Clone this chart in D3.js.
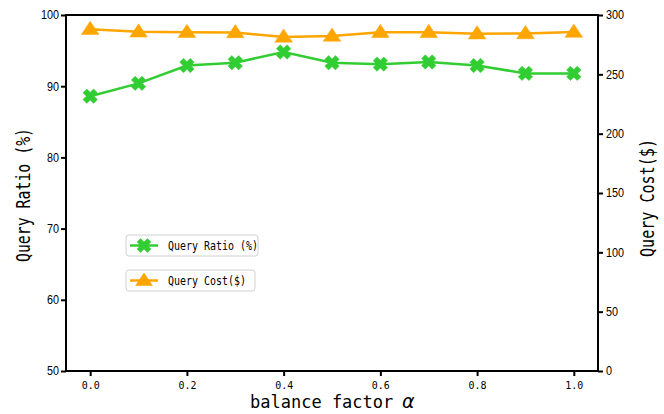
<!DOCTYPE html>
<html><head><meta charset="utf-8">
<script src="https://cdn.jsdelivr.net/npm/d3@7"></script>
<style>body{margin:0;background:#fff}</style>
</head><body>
<svg id="c" width="664" height="414"></svg>
<script>
const alphas = [0.0,0.1,0.2,0.3,0.4,0.5,0.6,0.7,0.8,0.9,1.0];
const queryRatio = [88.6,90.4,92.9,93.3,94.8,93.3,93.1,93.4,92.9,91.8,91.8];
const queryCost = [288.0,285.8,285.4,285.2,281.5,282.3,285.4,285.4,284.2,284.4,285.6];
const xTicks = [0.0,0.2,0.4,0.6,0.8,1.0];
const leftTicks = [50,60,70,80,90,100];
const rightTicks = [0,50,100,150,200,250,300];

const svg = d3.select("#c");
const m = {l:66, r:598, t:15, b:371};
const x = d3.scaleLinear().domain([-0.05,1.05]).range([m.l,m.r]);
const yL = d3.scaleLinear().domain([50,100]).range([m.b,m.t]);
const yR = d3.scaleLinear().domain([0,300]).range([m.b,m.t]);
const mono = "'DejaVu Sans Mono', monospace";
const sans = "'Liberation Sans', Arial, sans-serif";
const green = "#32cd32", orange = "#ffa500";

// axes
const axL = svg.append("g").attr("transform",`translate(${m.l},0)`)
  .call(d3.axisLeft(yL).tickValues(leftTicks).tickSize(5).tickPadding(2));
const axR = svg.append("g").attr("transform",`translate(${m.r},0)`)
  .call(d3.axisRight(yR).tickValues(rightTicks).tickSize(5).tickPadding(3));
const axB = svg.append("g").attr("transform",`translate(0,${m.b})`)
  .call(d3.axisBottom(x).tickValues(xTicks).tickFormat(d3.format(".1f")).tickSize(5).tickPadding(5));
[axL,axR,axB].forEach(a=>{
  a.select(".domain").remove();
  a.selectAll(".tick line").attr("stroke","#000").attr("stroke-width",2);
  a.selectAll("text").attr("fill","#000");
});
axL.selectAll("text").attr("font-family",sans).attr("font-size",12)
  .attr("transform","scale(0.9,1)").attr("x",-7/0.9);
axR.selectAll("text").attr("font-family",sans).attr("font-size",12)
  .attr("transform","scale(0.9,1)").attr("x",8/0.9);
axB.selectAll("text").attr("font-family",mono).attr("font-size",11)
  .attr("textLength",18).attr("lengthAdjust","spacingAndGlyphs");

// frame
svg.append("rect").attr("x",m.l).attr("y",m.t).attr("width",m.r-m.l).attr("height",m.b-m.t)
  .attr("fill","none").attr("stroke","#000").attr("stroke-width",2);

// axis titles
function txt(str, x0, y0, len, size, rot){
  const t = svg.append("text").attr("font-family",mono).attr("font-size",size)
    .attr("text-anchor","middle").attr("fill","#000")
    .attr("textLength",len).attr("lengthAdjust","spacingAndGlyphs").text(str);
  if(rot) t.attr("transform",`translate(${x0},${y0}) rotate(${rot})`);
  else t.attr("x",x0).attr("y",y0);
  return t;
}
svg.append("text").attr("x",250).attr("y",408).attr("font-family",mono).attr("font-size",17)
  .attr("fill","#000").text("balance factor");
svg.append("text").attr("x",402).attr("y",408).attr("font-family","'DejaVu Sans', sans-serif")
  .attr("font-style","italic").attr("font-size",19).attr("fill","#000").text("α");
txt("Query Ratio (%)", 30, 195, 134, 19, -90);
txt("Query Cost($)", 654, 198, 118, 19, -90);

// lines
const lineL = d3.line().x((d,i)=>x(alphas[i])).y(d=>yL(d));
const lineR = d3.line().x((d,i)=>x(alphas[i])).y(d=>yR(d));
svg.append("path").attr("d",lineR(queryCost)).attr("fill","none").attr("stroke",orange).attr("stroke-width",2.5);
svg.append("path").attr("d",lineL(queryRatio)).attr("fill","none").attr("stroke",green).attr("stroke-width",2.5);

function xPath(s){
  const a = s*0.36;
  const base = [[-a,-s],[a,-s],[a,-a],[s,-a],[s,a],[a,a],[a,s],[-a,s],[-a,a],[-s,a],[-s,-a],[-a,-a]];
  const r = base.map(([px,py])=>[(px-py)/Math.SQRT2,(px+py)/Math.SQRT2]);
  return "M"+r.map(p=>p.join(",")).join("L")+"Z";
}
function triPath(s){
  return `M0,${-s}L${s*1.1},${s*0.65}L${-s*1.1},${s*0.65}Z`;
}
svg.append("g").selectAll("path").data(queryCost).join("path")
  .attr("transform",(d,i)=>`translate(${x(alphas[i])},${yR(d)})`)
  .attr("d",triPath(8)).attr("fill",orange).attr("stroke",orange).attr("stroke-width",0.5);
svg.append("g").selectAll("path").data(queryRatio).join("path")
  .attr("transform",(d,i)=>`translate(${x(alphas[i])},${yL(d)})`)
  .attr("d",xPath(7.5)).attr("fill",green).attr("stroke",green).attr("stroke-width",0.5);

// legends
function legend(y0, w, label, color, path){
  const g = svg.append("g").attr("transform",`translate(126,${y0})`);
  g.append("rect").attr("x",0).attr("y",0).attr("width",w).attr("height",21).attr("rx",3)
    .attr("fill","#fff").attr("stroke","#d0d0d0").attr("stroke-width",1);
  g.append("line").attr("x1",4).attr("x2",32).attr("y1",10.5).attr("y2",10.5).attr("stroke",color).attr("stroke-width",2.5);
  g.append("path").attr("transform","translate(18,10.5)").attr("d",path).attr("fill",color);
  g.append("text").attr("x",42).attr("y",15).attr("font-family",mono).attr("font-size",12).attr("fill","#000")
    .attr("textLength",label.length*6).attr("lengthAdjust","spacingAndGlyphs").text(label);
}
legend(235, 132, "Query Ratio (%)", green, xPath(7.5));
legend(270, 129, "Query Cost($)", orange, triPath(8));
</script>
</body></html>
